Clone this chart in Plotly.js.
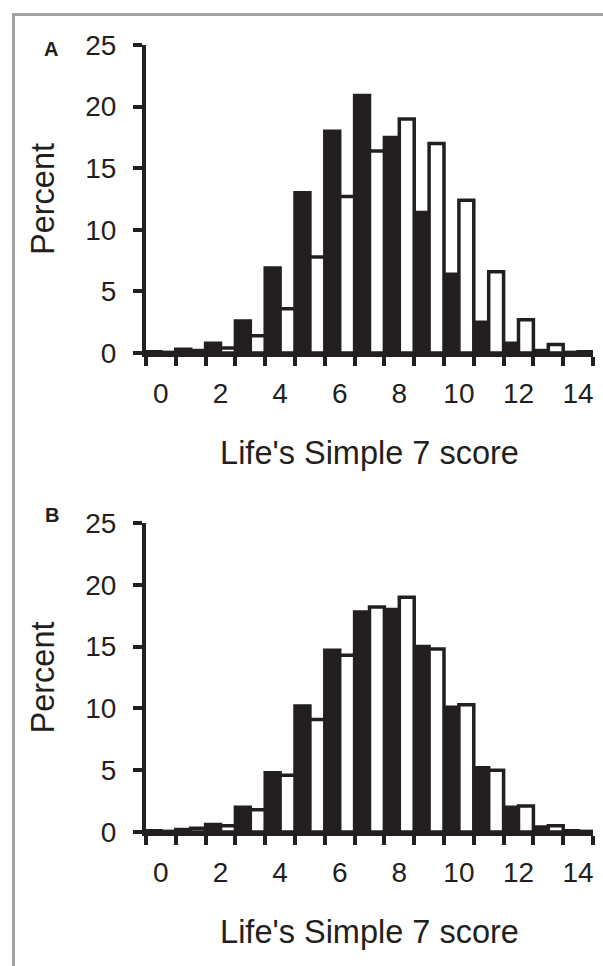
<!DOCTYPE html>
<html>
<head>
<meta charset="utf-8">
<script src="https://cdn.plot.ly/plotly-3.0.1.min.js"></script>
<style>
  html, body { margin: 0; padding: 0; background: #fff; }
  #wrap { position: relative; width: 603px; height: 966px; overflow: hidden; }
  #frame { position: absolute; left: 12px; top: 13px; width: 700px; height: 1000px;
           border-left: 3px solid #a3a3a3; border-top: 3px solid #a3a3a3; pointer-events: none; }
  #chart { position: absolute; left: 0; top: 0; width: 603px; height: 966px; }
</style>
</head>
<body>
<div id="wrap">
  <div id="chart"></div>
  <div id="frame"></div>
</div>
<script>
// Life's Simple 7 score categories
var scores = [0, 1, 2, 3, 4, 5, 6, 7, 8, 9, 10, 11, 12, 13, 14];
var xTickLabels = ["0", "2", "4", "6", "8", "10", "12", "14"];
var xTickPositions = [0, 2, 4, 6, 8, 10, 12, 14];
var yTicks = [0, 5, 10, 15, 20, 25];

// Panel A (percent)
var panelA_black = [0.1, 0.3, 0.8, 2.6, 6.9, 13.0, 18.0, 20.9, 17.5, 11.4, 6.4, 2.5, 0.8, 0.2, 0.05];
var panelA_white = [0.05, 0.2, 0.4, 1.4, 3.6, 7.8, 12.7, 16.4, 19.0, 17.0, 12.4, 6.6, 2.7, 0.7, 0.1];

// Panel B (percent)
var panelB_black = [0.1, 0.2, 0.6, 2.0, 4.8, 10.2, 14.7, 17.8, 18.0, 15.0, 10.1, 5.2, 2.0, 0.4, 0.1];
var panelB_white = [0.05, 0.3, 0.5, 1.8, 4.6, 9.1, 14.3, 18.2, 19.0, 14.8, 10.3, 5.0, 2.1, 0.5, 0.05];

var INK = '#231f20';
var FONT = 'Liberation Sans, Arial, Helvetica, sans-serif';

var boundaries = [];
for (var i = 0; i <= scores.length; i++) boundaries.push(scores[0] - 0.5 + i);

function barTrace(y, fill, xa, ya) {
  return {
    type: 'bar', x: scores, y: y, xaxis: xa, yaxis: ya,
    marker: { color: fill, line: { color: INK, width: 3.5 } },
    hoverinfo: 'skip', showlegend: false
  };
}

var data = [
  barTrace(panelA_black, INK, 'x', 'y'),
  barTrace(panelA_white, '#ffffff', 'x', 'y'),
  barTrace(panelB_black, INK, 'x2', 'y2'),
  barTrace(panelB_white, '#ffffff', 'x2', 'y2')
];

function xAxis(anchor) {
  return {
    anchor: anchor,
    domain: [146 / 603, 593 / 603],
    range: [-0.5, 14.5],
    tickmode: 'array', tickvals: xTickPositions, ticktext: xTickLabels,
    ticks: '', showgrid: false, zeroline: false,
    showline: true, linecolor: INK, linewidth: 4,
    minor: { tickmode: 'array', tickvals: boundaries, ticks: 'outside', ticklen: 9, tickwidth: 4, tickcolor: INK, showgrid: false },
    ticklabelstandoff: 12,
    tickfont: { family: FONT, size: 28, color: INK },
    title: { text: "Life's Simple 7 score", font: { family: FONT, size: 32.5, color: INK }, standoff: 35 },
    automargin: false, fixedrange: true
  };
}
function yAxis(anchor, dom) {
  return {
    anchor: anchor,
    domain: dom,
    range: [0, 25],
    tickmode: 'array', tickvals: yTicks,
    ticks: 'outside', ticklen: 9, tickwidth: 4, tickcolor: INK,
    showgrid: false, zeroline: false,
    showline: true, linecolor: INK, linewidth: 4,
    ticklabelstandoff: 11,
    tickfont: { family: FONT, size: 28, color: INK },
    title: { text: 'Percent', font: { family: FONT, size: 32.5, color: INK }, standoff: 22 },
    automargin: false, fixedrange: true
  };
}

var layout = {
  width: 603, height: 966,
  margin: { l: 0, r: 0, t: 0, b: 0 },
  paper_bgcolor: '#ffffff', plot_bgcolor: '#ffffff',
  barmode: 'group', bargap: 0, bargroupgap: 0,
  showlegend: false,
  xaxis: xAxis('y'),
  yaxis: yAxis('x', [1 - 353 / 966, 1 - 45 / 966]),
  xaxis2: xAxis('y2'),
  yaxis2: yAxis('x2', [1 - 832 / 966, 1 - 523 / 966]),
  annotations: [
    { text: '<b>A</b>', xref: 'paper', yref: 'paper', x: 51 / 603, y: 1 - 48.5 / 966,
      xanchor: 'center', yanchor: 'middle', showarrow: false, font: { family: FONT, size: 20, color: INK } },
    { text: '<b>B</b>', xref: 'paper', yref: 'paper', x: 51.5 / 603, y: 1 - 515 / 966,
      xanchor: 'center', yanchor: 'middle', showarrow: false, font: { family: FONT, size: 20, color: INK } }
  ]
};

Plotly.newPlot('chart', data, layout, { displayModeBar: false, staticPlot: true });
</script>
</body>
</html>
